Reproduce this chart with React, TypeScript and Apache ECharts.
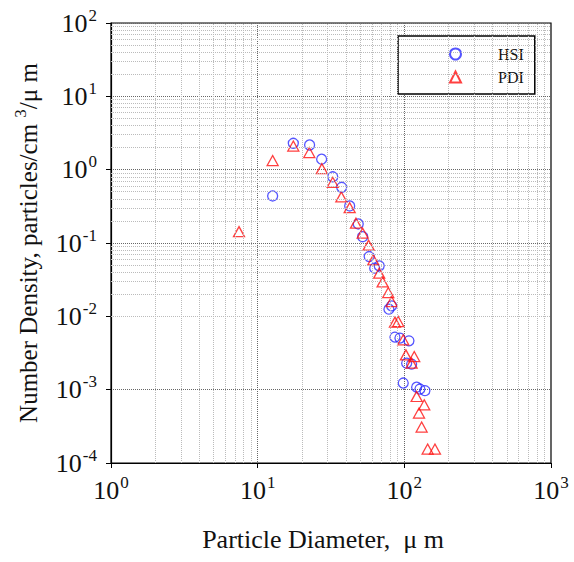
import React, { useEffect, useRef } from "react";
import * as echarts from "echarts";

const hsiDiameter = [12.65, 17.5, 22.6, 27.3, 32.5, 37.4, 42.4, 48.5, 52.0, 57.6, 67.4, 62.8, 81.9, 78.5, 86.3, 93.3, 107.5, 103.7, 112.1, 98.3, 121.3, 127.7, 138.1];
const hsiDensity = [0.438, 2.29, 2.17, 1.39, 0.8, 0.575, 0.32, 0.182, 0.122, 0.0653, 0.0488, 0.0454, 0.0139, 0.01253, 0.00521, 0.00505, 0.00463, 0.0023, 0.00223, 0.00123, 0.00108, 0.00102, 0.00097];

const pdiDiameter = [7.46, 12.65, 17.5, 22.5, 27.4, 32.5, 37.2, 42.4, 46.8, 52.0, 57.1, 61.4, 67.4, 71.1, 77.7, 81.9, 86.3, 90.9, 98.3, 102.5, 116.8, 112.1, 121.3, 136.7, 125.9, 131.2, 144.2, 161.7];
const pdiDensity = [0.143, 1.33, 2.1, 1.71, 1.03, 0.673, 0.425, 0.303, 0.186, 0.136, 0.0933, 0.0589, 0.0388, 0.0295, 0.0211, 0.0159, 0.00834, 0.0085, 0.00479, 0.00298, 0.00283, 0.0023, 0.000807, 0.000622, 0.00048, 0.000309, 0.000155, 0.000155];

const xTickExponents = [0, 1, 2, 3];
const yTickExponents = [-4, -3, -2, -1, 0, 1, 2];
const minorMultipliers = [2, 3, 4, 5, 6, 7, 8, 9];

const xTitle = "Particle Diameter,  μ m";
const yTitlePre = "Number Density, particles/cm ";
const yTitleSup = "3";
const yTitlePost = "/μ m";
const seriesNames = ["HSI", "PDI"];

const FONT = "Liberation Serif";

function minorValues(exps: number[]) {
  const out: number[] = [];
  for (let i = 0; i < exps.length - 1; i++) {
    for (const m of minorMultipliers) out.push(m * Math.pow(10, exps[i]));
  }
  return out;
}

const expLabel = (v: number) => {
  const e = Math.round(Math.log10(v));
  return `{b|10}{s|${e}}`;
};

const labelRich = {
  b: { fontFamily: FONT, fontSize: 26, color: "#111", lineHeight: 28 },
  s: { fontFamily: FONT, fontSize: 17, color: "#111", padding: [0, 0, 16, 1] },
};

export default function App() {
  const ref = useRef<HTMLDivElement>(null);
  useEffect(() => {
    if (!ref.current) return;
    const chart = echarts.init(ref.current, undefined, { renderer: "svg" });
    const xMin = Math.pow(10, xTickExponents[0]);
    const xMax = Math.pow(10, xTickExponents[xTickExponents.length - 1]);
    const yMin = Math.pow(10, yTickExponents[0]);
    const yMax = Math.pow(10, yTickExponents[yTickExponents.length - 1]);
    chart.setOption({
      animation: false,
      backgroundColor: "#fff",
      textStyle: { fontFamily: FONT },
      grid: {
        left: 111,
        right: 23,
        top: 23,
        bottom: 99,
        outerBoundsMode: "none",
        containLabel: false,
        show: true,
        borderColor: "#000",
        borderWidth: 1.2,
        backgroundColor: "#fff",
      },
      legend: {
        data: seriesNames,
        orient: "vertical",
        left: 398,
        top: 36,
        backgroundColor: "#fff",
        borderColor: "#000",
        borderWidth: 1.5,
        borderRadius: 0,
        padding: [10, 11, 9, 51],
        itemGap: 7,
        itemWidth: 11,
        itemHeight: 11,
        textStyle: { fontFamily: FONT, fontSize: 16, color: "#111", padding: [0, 0, 0, 32] },
      },
      xAxis: {
        type: "log",
        logBase: 10,
        min: xMin,
        max: xMax,
        name: xTitle,
        nameLocation: "middle",
        nameGap: 63,
        nameTextStyle: { fontFamily: FONT, fontSize: 26, color: "#111", padding: [0, 16, 0, 0] },
        axisLine: { show: true, lineStyle: { color: "#000", width: 1.2 } },
        axisTick: { show: true, length: 5, lineStyle: { color: "#000" } },
        axisLabel: { formatter: expLabel, rich: labelRich, fontSize: 26, fontFamily: FONT, color: "#111", margin: 11 },
        splitLine: { show: true, lineStyle: { type: "dotted", color: "#666", width: 1 } },
      },
      yAxis: {
        type: "log",
        logBase: 10,
        min: yMin,
        max: yMax,
        name: `{t|${yTitlePre}}{u|${yTitleSup}}{t|${yTitlePost}}`,
        nameLocation: "middle",
        nameGap: 66,
        nameRotate: 90,
        nameTextStyle: {
          fontFamily: FONT,
          fontSize: 25,
          align: "center",
          rich: {
            t: { fontFamily: FONT, fontSize: 25, color: "#111", lineHeight: 30 },
            u: { fontFamily: FONT, fontSize: 17, color: "#111", padding: [0, 0, 16, 0] },
          },
        },
        axisLine: { show: true, lineStyle: { color: "#000", width: 1.2 } },
        axisTick: { show: true, length: 5, lineStyle: { color: "#000" } },
        axisLabel: { formatter: expLabel, rich: labelRich, fontSize: 26, fontFamily: FONT, color: "#111", margin: 14 },
        splitLine: { show: true, lineStyle: { type: "dotted", color: "#666", width: 1 } },
      },
      series: [
        {
          name: "minor-grid",
          type: "scatter",
          data: [],
          z: 1,
          silent: true,
          markLine: {
            silent: true,
            symbol: ["none", "none"],
            label: { show: false },
            lineStyle: { type: "dotted", color: "#bbb", width: 1 },
            data: [
              ...minorValues(xTickExponents).map((v) => ({ xAxis: v })),
              ...minorValues(yTickExponents).map((v) => ({ yAxis: v })),
            ],
          },
        },
        {
          name: seriesNames[0],
          type: "scatter",
          symbol: "circle",
          symbolSize: 10,
          z: 3,
          itemStyle: { color: "rgba(0,0,0,0)", borderColor: "#2a2aff", borderWidth: 1.3 },
          data: hsiDiameter.map((d, i) => [d, hsiDensity[i]]),
        },
        {
          name: seriesNames[1],
          type: "scatter",
          symbol: "triangle",
          symbolSize: [11, 10],
          z: 4,
          itemStyle: { color: "rgba(0,0,0,0)", borderColor: "#ff1010", borderWidth: 1.3 },
          data: pdiDiameter.map((d, i) => [d, pdiDensity[i]]),
        },
      ],
    });
    return () => chart.dispose();
  }, []);
  return <div ref={ref} style={{ width: 574, height: 562, position: "absolute", left: 0, top: 0 }} />;
}
